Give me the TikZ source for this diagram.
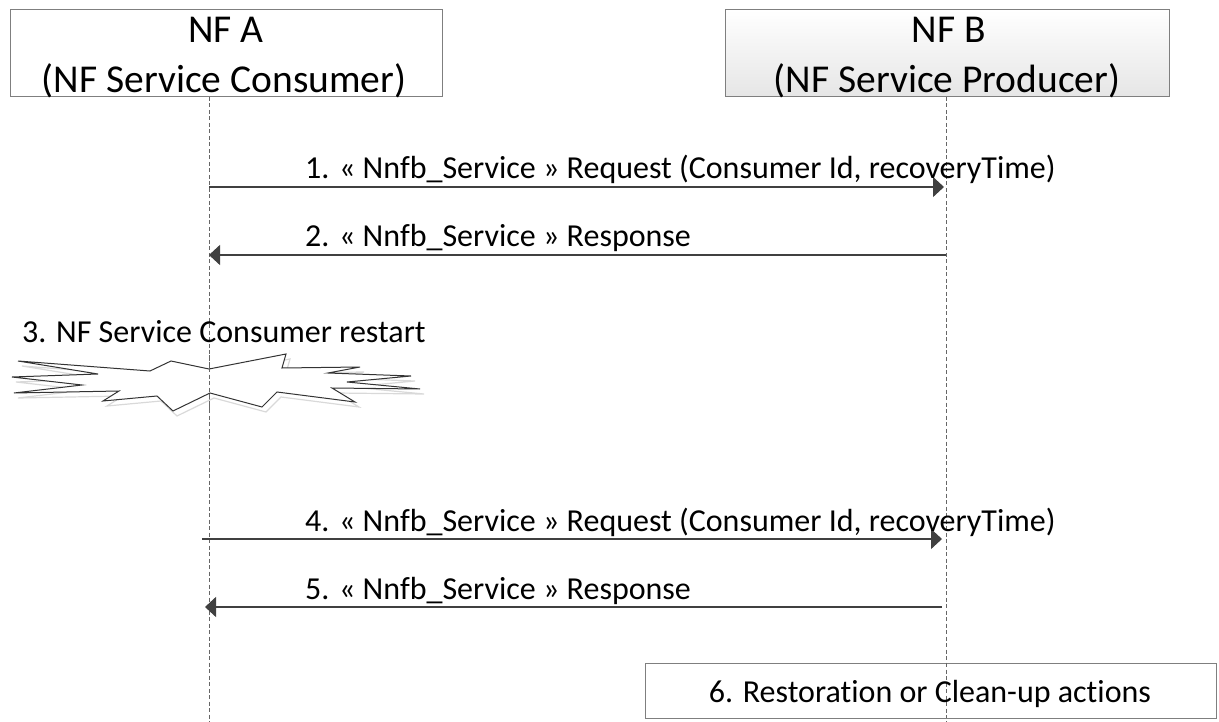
\documentclass[tikz,border=0pt]{standalone}
\usepackage{fontspec}
\setmainfont{Carlito}[Ligatures=NoCommon]
\usetikzlibrary{arrows.meta,shadings}
\definecolor{linegray}{HTML}{404040}
\definecolor{boxgray}{HTML}{7F7F7F}
\tikzset{
  hdrbox/.style={draw=boxgray, line width=1pt, rectangle, minimum width=432pt, minimum height=87pt, inner sep=0pt},
  hdrtext/.style={anchor=base, inner sep=0pt, font=\fontsize{39.5}{47}\selectfont},
  msgtext/.style={anchor=base west, inner sep=0pt, font=\fontsize{32}{38}\selectfont},
  lifeline/.style={draw=black!60, line width=0.8pt, dash pattern=on 4pt off 2.5pt},
  msg/.style={draw=linegray, line width=1.3pt, -{Triangle[length=11pt,width=20pt]}},
  burst/.style={draw=black!80, line width=1pt, fill=white},
  burstshadow/.style={draw=black!15, line width=1.2pt}
}
\begin{document}
\begin{tikzpicture}[x=1pt,y=-1pt]
\useasboundingbox (0,0) rectangle (1219,722);
% header boxes
\node[hdrbox, fill=white] (A) at (226,53.5) {};
\node[hdrbox, minimum width=444pt, top color=white, bottom color=black!10] (B) at (947,53.5) {};
\node[hdrtext] (At1) at (226,43) {NF A};
\node[hdrtext] (At2) at (224,93) {(NF Service Consumer)};
\node[hdrtext] (Bt1) at (949,43) {NF B};
\node[hdrtext] (Bt2) at (947,93) {(NF Service Producer)};
% lifelines
\coordinate (Atop) at (209,97);
\coordinate (Abot) at (209,722);
\coordinate (Btop) at (946,97);
\coordinate (Bbot) at (946,722);
\draw[lifeline] (Atop) -- (Abot);
\draw[lifeline] (Btop) -- (Bbot);
% burst shadow and burst
\draw[burstshadow, shift={(4,5)}] (18,361) -- (150,371) -- (171,361) -- (209,369) -- (286,354) -- (282,368) -- (360,367) -- (328,373) -- (411,376) -- (347,382) -- (420,389) -- (332,388) -- (355,402) -- (277,392) -- (262,407) -- (210,393) -- (173,411) -- (157,396) -- (103,401) -- (119,391) -- (14,393) -- (82,385) -- (12,377) -- (98,374) -- cycle;
\draw[burst] (18,361) -- (150,371) -- (171,361) -- (209,369) -- (286,354) -- (282,368) -- (360,367) -- (328,373) -- (411,376) -- (347,382) -- (420,389) -- (332,388) -- (355,402) -- (277,392) -- (262,407) -- (210,393) -- (173,411) -- (157,396) -- (103,401) -- (119,391) -- (14,393) -- (82,385) -- (12,377) -- (98,374) -- cycle;
\draw[lifeline] (209,355) -- (209,412);
% message end points
\coordinate (m1s) at (209,187);
\coordinate (m1e) at (944,187);
\coordinate (m2s) at (946,255);
\coordinate (m2e) at (209,255);
\coordinate (m4s) at (202,539);
\coordinate (m4e) at (942,539);
\coordinate (m5s) at (942,607);
\coordinate (m5e) at (205,607);
\draw[msg] (m1s) -- (m1e);
\draw[msg] (m2s) -- (m2e);
\draw[msg] (m4s) -- (m4e);
\draw[msg] (m5s) -- (m5e);
% labels
\node[msgtext] (l1) at (305,179) {1. « Nnfb\_Service » Request (Consumer Id, recoveryTime)};
\node[msgtext] (l2) at (305,247) {2. « Nnfb\_Service » Response};
\node[msgtext] (l3) at (22,342) {3. NF Service Consumer restart};
\node[msgtext] (l4) at (305,531) {4. « Nnfb\_Service » Request (Consumer Id, recoveryTime)};
\node[msgtext] (l5) at (305,599) {5. « Nnfb\_Service » Response};
% step 6 box
\node[draw=boxgray, line width=1pt, fill=white, minimum width=571pt, minimum height=55pt, inner sep=0pt] (s6) at (930.5,690.5) {};
\draw[lifeline] (946,663) -- (946,718);
\node[anchor=base, inner sep=0pt, font=\fontsize{32}{38}\selectfont] (s6t) at (930,702) {6. Restoration or Clean-up actions};
\end{tikzpicture}
\end{document}
